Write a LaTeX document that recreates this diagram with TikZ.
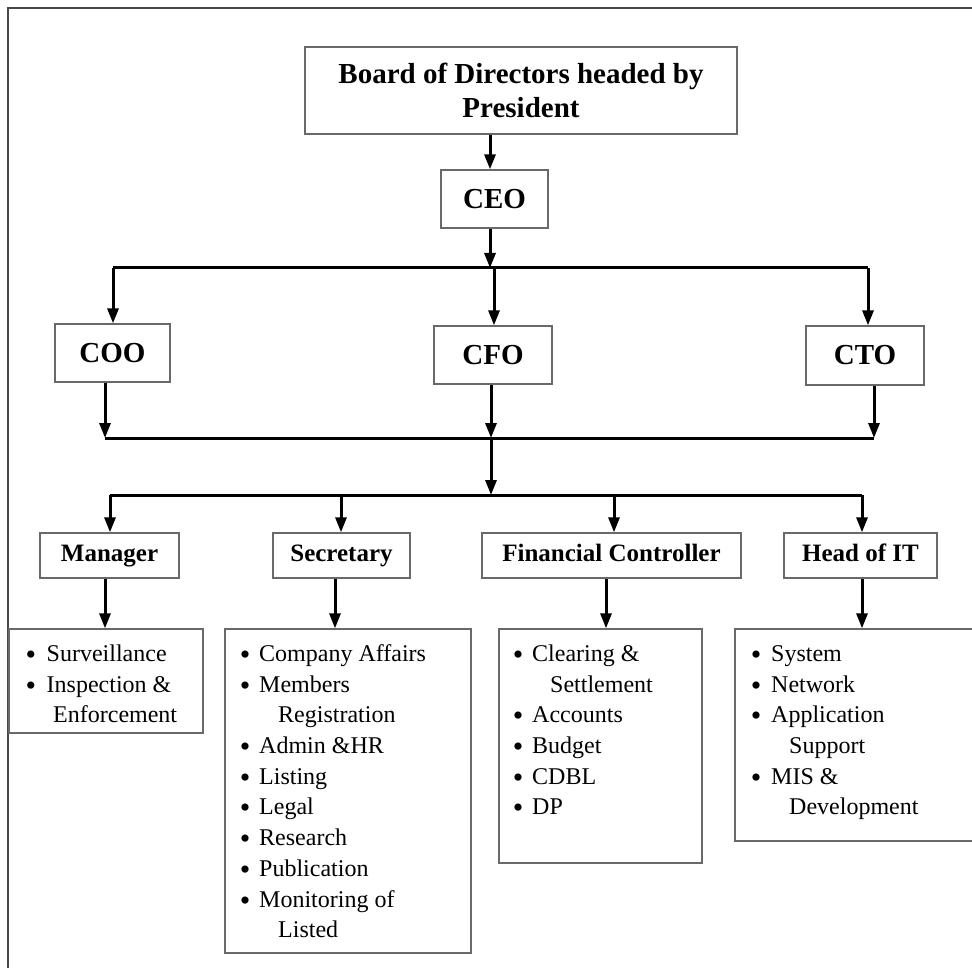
\documentclass[tikz,border=0pt]{standalone}
\usepackage{fontspec}
\setmainfont{Liberation Serif}
\usetikzlibrary{arrows.meta,calc}
\definecolor{boxgray}{RGB}{105,105,105}
\definecolor{framegray}{RGB}{70,70,70}
\begin{document}
\begin{tikzpicture}[x=1pt,y=-1pt,
 box/.style={draw=boxgray,line width=1.3pt,rectangle,inner sep=0pt,fill=white},
 hdbig/.style={box,font=\fontsize{29}{34}\selectfont\bfseries},
 hd/.style={box,font=\fontsize{25}{30}\selectfont\bfseries,text height=17pt,text depth=5pt},
 arr/.style={line width=3pt,-{Triangle[length=15pt,width=11pt]}},
 bus/.style={line width=3pt},
 lt/.style={anchor=base west,inner sep=0pt,font=\fontsize{24}{30}\selectfont},
 bl/.style={anchor=base,inner sep=0pt,font=\fontsize{30}{30}\selectfont,yshift=-3pt}]
\clip (0,0) rectangle (972,968);
\fill[white] (0,0) rectangle (972,968);
\draw[draw=framegray,line width=1.3pt] (8,8) rectangle (1000,1000);

% top boxes
\node[hdbig, minimum width=432pt, minimum height=87pt, align=center] (board) at (521,90.5) {Board of Directors headed by\\President};
\node[hdbig, minimum width=107pt, minimum height=58pt] (ceo) at (494.5,199) {CEO};
\node[hdbig, minimum width=115pt, minimum height=58pt] (coo) at (112.5,353) {COO};
\node[hdbig, minimum width=118pt, minimum height=58pt] (cfo) at (493,355) {CFO};
\node[hdbig, minimum width=118pt, minimum height=59pt] (cto) at (865,355.5) {CTO};

% header boxes
\node[hd, minimum width=139pt, minimum height=45pt] (mgr) at (109.5,555.5) {Manager};
\node[hd, minimum width=137pt, minimum height=45pt] (sec) at (341.5,555.5) {Secretary};
\node[hd, minimum width=259pt, minimum height=45pt] (fc) at (611.5,555.5) {Financial Controller};
\node[hd, minimum width=153pt, minimum height=45pt] (hit) at (860.5,555.5) {Head of IT};

% list boxes
\node[box, minimum width=194pt, minimum height=104pt] (l1) at (106,681) {};
\node[box, minimum width=246pt, minimum height=324pt] (l2) at (348,791) {};
\node[box, minimum width=203pt, minimum height=234pt] (l3) at (600.5,746) {};
\node[box, minimum width=265pt, minimum height=212pt] (l4) at (867.5,735) {};

% coordinates
\coordinate (a0) at (490,0);
\coordinate (b1l) at (113,268);
\coordinate (b1m) at (494,268);
\coordinate (b1r) at (868,268);
\coordinate (b2l) at (105,438);
\coordinate (b2m) at (491,438);
\coordinate (b2r) at (874,438);
\coordinate (b3l) at (110,495);
\coordinate (b3s) at (341,495);
\coordinate (b3f) at (614,495);
\coordinate (b3r) at (862,495);
\coordinate (b3m) at (491,495);
\coordinate (d1) at (105,0);
\coordinate (d2) at (335,0);
\coordinate (d3) at (606,0);
\coordinate (d4) at (862,0);

% connectors
\draw[arr] (board.south -| a0) -- (ceo.north -| a0);
\draw[arr] (ceo.south -| a0) -- (b1l -| a0);
\draw[bus] (b1l) -- (b1r);
\draw[arr] (b1l) -- (coo.north -| b1l);
\draw[arr] (b1m) -- (cfo.north -| b1m);
\draw[arr] (b1r) -- (cto.north -| b1r);
\draw[arr] (coo.south -| b2l) -- (b2l);
\draw[arr] (cfo.south -| b2m) -- (b2m);
\draw[arr] (cto.south -| b2r) -- (b2r);
\draw[bus] (b2l) -- (b2r);
\draw[arr] (b2m) -- (b3m);
\draw[bus] (b3l) -- (b3r);
\draw[arr] (b3l) -- (mgr.north -| b3l);
\draw[arr] (b3s) -- (sec.north -| b3s);
\draw[arr] (b3f) -- (fc.north -| b3f);
\draw[arr] (b3r) -- (hit.north -| b3r);
\draw[arr] (mgr.south -| d1) -- (l1.north -| d1);
\draw[arr] (sec.south -| d2) -- (l2.north -| d2);
\draw[arr] (fc.south -| d3) -- (l3.north -| d3);
\draw[arr] (hit.south -| d4) -- (l4.north -| d4);

% list 1
\node[bl] (l1b1) at (31,661) {•};
\node[lt] (l1t1) at (46.5,661) {Surveillance};
\node[bl] (l1b2) at (31,692) {•};
\node[lt] (l1t2) at (46.5,692) {Inspection \&};
\node[lt] (l1t3) at (53,722) {Enforcement};

% list 2
\node[bl] (l2b1) at (245,661) {•};
\node[lt] (l2t1) at (259,661) {Company Affairs};
\node[bl] (l2b2) at (245,692) {•};
\node[lt] (l2t2) at (259,692) {Members};
\node[lt] (l2t3) at (278,722) {Registration};
\node[bl] (l2b4) at (245,753) {•};
\node[lt] (l2t4) at (259,753) {Admin \&HR};
\node[bl] (l2b5) at (245,784) {•};
\node[lt] (l2t5) at (259,784) {Listing};
\node[bl] (l2b6) at (245,814) {•};
\node[lt] (l2t6) at (259,814) {Legal};
\node[bl] (l2b7) at (245,845) {•};
\node[lt] (l2t7) at (259,845) {Research};
\node[bl] (l2b8) at (245,876) {•};
\node[lt] (l2t8) at (259,876) {Publication};
\node[bl] (l2b9) at (245,907) {•};
\node[lt] (l2t9) at (259,907) {Monitoring of};
\node[lt] (l2t10) at (278,937) {Listed};

% list 3
\node[bl] (l3b1) at (518,661) {•};
\node[lt] (l3t1) at (532,661) {Clearing \&};
\node[lt] (l3t2) at (550,692) {Settlement};
\node[bl] (l3b3) at (518,722) {•};
\node[lt] (l3t3) at (532,722) {Accounts};
\node[bl] (l3b4) at (518,753) {•};
\node[lt] (l3t4) at (532,753) {Budget};
\node[bl] (l3b5) at (518,784) {•};
\node[lt] (l3t5) at (532,784) {CDBL};
\node[bl] (l3b6) at (518,814) {•};
\node[lt] (l3t6) at (532,814) {DP};

% list 4
\node[bl] (l4b1) at (756,661) {•};
\node[lt] (l4t1) at (771,661) {System};
\node[bl] (l4b2) at (756,692) {•};
\node[lt] (l4t2) at (771,692) {Network};
\node[bl] (l4b3) at (756,722) {•};
\node[lt] (l4t3) at (771,722) {Application};
\node[lt] (l4t4) at (789,753) {Support};
\node[bl] (l4b5) at (756,784) {•};
\node[lt] (l4t5) at (771,784) {MIS \&};
\node[lt] (l4t6) at (789,814) {Development};
\end{tikzpicture}
\end{document}
